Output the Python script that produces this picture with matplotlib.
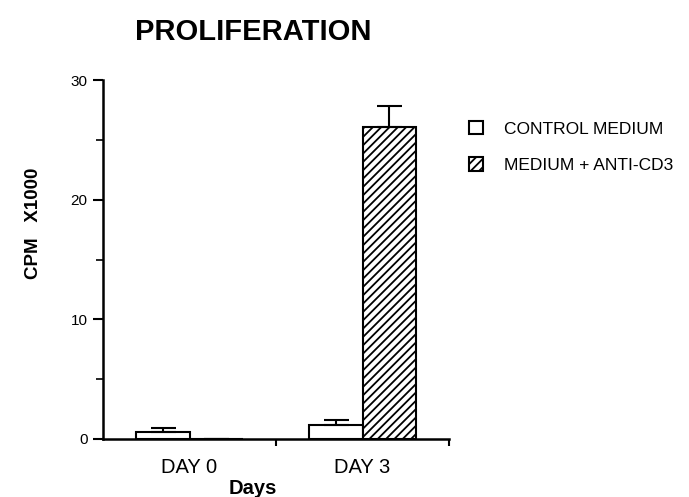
import matplotlib
matplotlib.use("Agg")
import matplotlib.pyplot as plt
from matplotlib.patches import Patch
import numpy as np

categories = ["DAY 0", "DAY 3"]
series_names = ["CONTROL MEDIUM", "MEDIUM + ANTI-CD3"]
control_vals = [0.6, 1.2]
control_err = [0.3, 0.35]
anti_vals = [0.0, 26.1]
anti_err = [0.0, 1.7]
yticks = [0, 10, 20, 30]

plt.rcParams['font.family'] = ['Liberation Sans', 'DejaVu Sans']
plt.rcParams['hatch.linewidth'] = 1.3

fig = plt.figure(figsize=6.89 * np.array([1, 497 / 689]), dpi=100)
ax = fig.add_axes([103 / 689, 1 - 439 / 497, 346 / 689, 359 / 497])

x = np.arange(len(categories))
w = 0.31
ax.bar(x - w / 2, control_vals, w, color="white", edgecolor="black", linewidth=1.5,
       yerr=[np.zeros(2), control_err], capsize=9,
       error_kw=dict(elinewidth=1.5, capthick=1.5, ecolor="black"), zorder=3)
ax.bar(x + w / 2, anti_vals, w, color="white", edgecolor="black", linewidth=1.5,
       hatch="////", yerr=[np.zeros(2), anti_err], capsize=9,
       error_kw=dict(elinewidth=1.5, capthick=1.5, ecolor="black"), zorder=3)

ax.set_xlim(-0.5, 1.5)
ax.set_ylim(0, 30)
ax.set_yticks(yticks)
ax.set_yticks([5, 15, 25], minor=True)
ax.set_xticks(x)
ax.set_xticklabels(categories, fontsize=14.5)
ax.set_xticks([0.5, 1.5], minor=True)
ax.tick_params(axis="x", which="major", length=0, pad=14)
ax.tick_params(axis="x", which="minor", length=5, width=1.5, direction="out")
ax.tick_params(axis="y", which="major", length=7, width=1.5, labelsize=11, pad=4)
ax.tick_params(axis="y", which="minor", length=5, width=1.2)
for s in ["top", "right"]:
    ax.spines[s].set_visible(False)
for s in ["left", "bottom"]:
    ax.spines[s].set_linewidth(1.8)

fig.text(0.368, 0.935, "PROLIFERATION", ha="center", va="center",
         fontsize=21, fontweight="bold")
fig.text(0.048, 0.55, "CPM   X1000", ha="center", va="center", rotation=90,
         fontsize=13.5, fontweight="bold")
fig.text(253 / 689, 1 - 488 / 497, "Days", ha="center", va="center",
         fontsize=14.5, fontweight="bold")

handles = [Patch(facecolor="white", edgecolor="black", linewidth=1.5),
           Patch(facecolor="white", edgecolor="black", linewidth=1.5, hatch="////")]
leg = fig.legend(handles, series_names, loc="upper left",
                 bbox_to_anchor=(462 / 689, 1 - 114 / 497), frameon=False,
                 fontsize=12.5, handlelength=0.8, handleheight=0.8,
                 labelspacing=1.2, handletextpad=1.2, borderaxespad=0)

fig.savefig("out.png", dpi=100)
